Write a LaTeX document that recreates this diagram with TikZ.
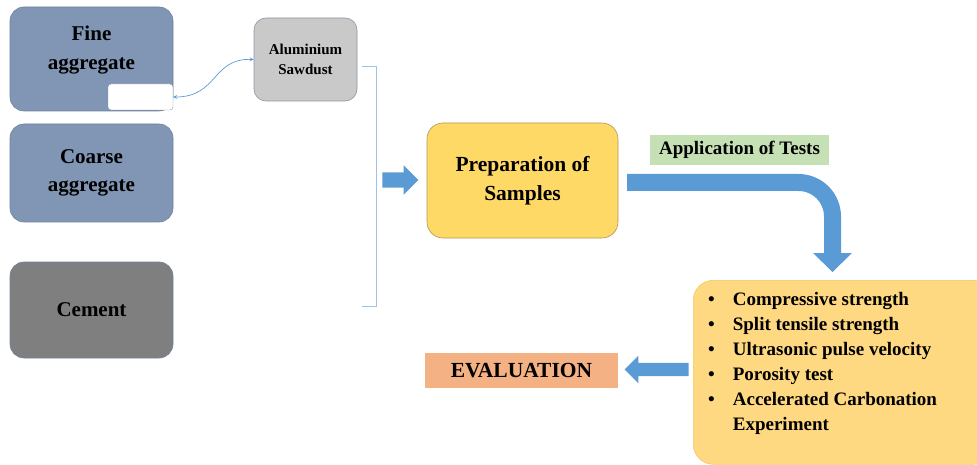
\documentclass[tikz,border=0pt]{standalone}
\usepackage{fontspec}
\setmainfont{Liberation Serif}
\usepackage{tikz}
\usetikzlibrary{arrows,shapes,shapes.arrows,positioning}
\definecolor{aggblue}{RGB}{128,150,180}
\definecolor{aggline}{RGB}{110,130,160}
\definecolor{cemgray}{RGB}{127,127,127}
\definecolor{sawgray}{RGB}{201,201,201}
\definecolor{sawline}{RGB}{140,150,165}
\definecolor{prepyel}{RGB}{255,217,102}
\definecolor{prepline}{RGB}{175,150,90}
\definecolor{appgreen}{RGB}{197,224,180}
\definecolor{evalred}{RGB}{244,177,131}
\definecolor{testyel}{RGB}{255,216,130}
\definecolor{testline}{RGB}{245,200,95}
\definecolor{arrblue}{RGB}{91,155,213}
\definecolor{brackblue}{RGB}{157,195,230}
\begin{document}
\begin{tikzpicture}[x=1pt,y=-1pt,
  matbox/.style={rectangle,rounded corners=14pt,draw=aggline,line width=.6pt,fill=aggblue,
    font=\fontsize{21}{27}\selectfont\bfseries,align=center,inner sep=0pt},
  blockarr/.style={single arrow,fill=arrblue,draw=none,inner xsep=0pt},
  flat/.style={rectangle,draw=none,inner sep=0pt,font=\bfseries}]
\useasboundingbox (0,0) rectangle (977,465);
%the raw materials
\node[matbox,minimum width=163pt,minimum height=104pt] (fine) at (91.5,59) {};
\node[flat,align=center,font=\fontsize{21}{29}\selectfont\bfseries] (finetext) at (91.5,50) {Fine\\aggregate};
\node[rectangle,rounded corners=3pt,draw=sawline,line width=.4pt,fill=white,minimum width=65pt,minimum height=26pt] (blank) at (140.5,97) {};
\node[matbox,minimum width=163pt,minimum height=98pt,font=\fontsize{21}{28}\selectfont\bfseries] (coarse) at (91.5,173) {Coarse\\aggregate};
\node[matbox,fill=cemgray,draw=aggline,minimum width=163pt,minimum height=96pt] (cement) at (91.5,310) {Cement};
\node[matbox,fill=sawgray,draw=sawline,rounded corners=12pt,minimum width=103pt,minimum height=83pt,
  font=\fontsize{15}{20}\selectfont\bfseries] (saw) at (305.5,59.5) {Aluminium\\Sawdust};
%link between sawdust and fine aggregate
\draw[<->,>=stealth,arrblue,line width=.7pt] (blank.east) .. controls (218,97) and (212,58) .. (saw.west);
%bracket collecting the materials
\coordinate (btop) at (362,66); \coordinate (bbot) at (362,306);
\draw[brackblue,line width=.8pt] (btop) -- ++(14,0) |- (bbot);
\node[blockarr,inner ysep=7.5pt,minimum height=36pt,minimum width=29pt,single arrow head extend=7pt] (arrA) at (396.5,180) {};
%samples and tests
\node[matbox,fill=prepyel,draw=prepline,rounded corners=16pt,minimum width=191pt,minimum height=115pt,
  font=\fontsize{21.5}{29}\selectfont\bfseries] (prep) at (522.5,180.5) {Preparation of\\Samples};
\node[flat,fill=appgreen,minimum width=179pt,minimum height=30pt,font=\fontsize{19}{22}\selectfont\bfseries] (app) at (739.5,150) {Application of Tests};
\coordinate (bend) at (627,182.5);
\draw[arrblue,line width=17pt,rounded corners=34pt] (bend) -| (832.5,253.5);
\coordinate (tip) at (832.5,272);
\fill[arrblue] (813,253) -- (852,253) -- (tip) -- cycle;
\node[rectangle,rounded corners=20pt,draw=testline,line width=.6pt,fill=testyel,minimum width=300pt,minimum height=184pt,anchor=north west] (tests) at (693,280) {};
\node[flat,anchor=north west,font=\fontsize{19}{25}\selectfont\bfseries] (testlist) at (708,288)
  {\begin{tabular}{@{}l@{\hspace{18pt}}l@{}}
   \textbullet & Compressive strength\\
   \textbullet & Split tensile strength\\
   \textbullet & Ultrasonic pulse velocity\\
   \textbullet & Porosity test\\
   \textbullet & Accelerated Carbonation\\
   & Experiment
   \end{tabular}};
%evaluation
\node[blockarr,shape border rotate=180,inner ysep=6.5pt,minimum height=64pt,minimum width=27pt,single arrow head extend=7pt] (arrB) at (660,369.5) {};
\node[flat,fill=evalred,minimum width=193pt,minimum height=35pt,font=\fontsize{21.5}{24}\selectfont\bfseries] (eval) at (521.5,370.5) {EVALUATION};
\end{tikzpicture}
\end{document}
